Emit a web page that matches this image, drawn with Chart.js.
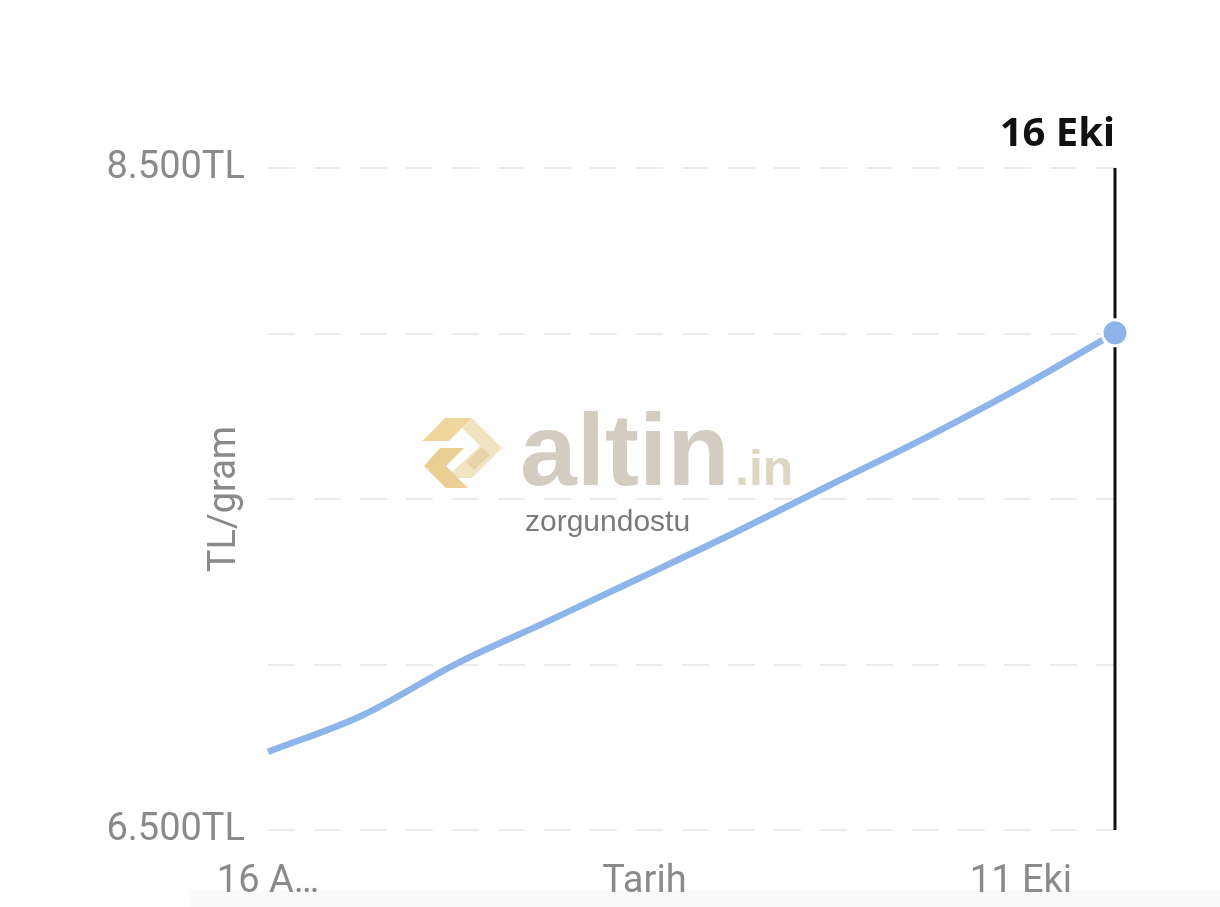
<!DOCTYPE html>
<html>
<head>
<meta charset="utf-8">
<script src="https://cdn.jsdelivr.net/npm/chart.js@4.4.1/dist/chart.umd.min.js"></script>
<style>
  html, body { margin: 0; padding: 0; background: #fff; }
  #wrap { position: relative; width: 1220px; height: 907px; }
  #strip { position: absolute; left: 190px; top: 890px; width: 1030px; height: 17px; background: #fafafa; }
  canvas { position: absolute; left: 0; top: 0; }
</style>
</head>
<body>
<div id="wrap">
  <div id="strip"></div>
  <canvas id="chart" width="1220" height="907"></canvas>
</div>
<script>
// weekly gram gold price (TL/gram)
const dates = ['16 Ağu', '23 Ağu', '30 Ağu', '6 Eyl', '13 Eyl', '20 Eyl', '27 Eyl', '4 Eki', '11 Eki', '16 Eki'];
const prices = [6736, 6846, 7002, 7134, 7268, 7404, 7546, 7687, 7838, 8002];
// what the x axis shows under each week
const xTickText = ['16 A…', '', '', '', 'Tarih', '', '', '', '11 Eki', ''];
const yTickValues = [6500, 8500];
const selectedLabel = '16 Eki';

const lineBlue = '#8db5ea';
const grey = '#8a8a8a';

function poly(ctx, color, pts) {
  ctx.fillStyle = color;
  ctx.beginPath();
  pts.forEach(([x, y], i) => i ? ctx.lineTo(x, y) : ctx.moveTo(x, y));
  ctx.closePath();
  ctx.fill();
}

// altin.in watermark behind the line
const watermark = {
  id: 'watermark',
  beforeDatasetsDraw(chart) {
    const ctx = chart.ctx;
    ctx.save();
    // logo
    poly(ctx, '#f1e4c3', [[472, 418], [502, 448], [472, 478], [458, 478], [452, 472], [480, 446], [462, 428]]);
    poly(ctx, '#efd69c', [[422, 441], [445, 418], [472, 418], [449, 441]]);
    poly(ctx, '#e9cf94', [[440, 448], [464, 448], [446, 466], [468, 488], [446, 488], [424, 466]]);
    poly(ctx, '#e6d3a8', [[466, 462], [482, 447], [490, 455], [474, 470]]);
    // name
    ctx.textBaseline = 'alphabetic';
    ctx.textAlign = 'left';
    ctx.font = 'bold 102px "Liberation Sans", Arial, sans-serif';
    ctx.fillStyle = '#d3cdc1';
    ctx.fillText('altin', 520, 485);
    ctx.font = 'bold 50px "Liberation Sans", Arial, sans-serif';
    ctx.fillStyle = '#ddd6c2';
    ctx.fillText('.in', 735, 485);
    ctx.font = '30px "Liberation Sans", Arial, sans-serif';
    ctx.fillStyle = '#7a7a7a';
    ctx.fillText('zorgundostu', 525, 531);
    ctx.restore();
  }
};

// vertical marker at the selected (last) day
const marker = {
  id: 'marker',
  beforeDatasetsDraw(chart) {
    const {ctx, chartArea} = chart;
    const pt = chart.getDatasetMeta(0).data[prices.length - 1];
    ctx.save();
    ctx.strokeStyle = '#111';
    ctx.lineWidth = 3;
    ctx.beginPath();
    ctx.moveTo(pt.x, chartArea.top);
    ctx.lineTo(pt.x, chartArea.bottom);
    ctx.stroke();
    ctx.font = 'bold 40px "Noto Sans", sans-serif';
    ctx.fillStyle = '#111';
    ctx.textAlign = 'right';
    ctx.textBaseline = 'alphabetic';
    ctx.fillText(selectedLabel, pt.x, 146);
    ctx.restore();
  }
};

new Chart(document.getElementById('chart'), {
  type: 'line',
  data: {
    labels: dates,
    datasets: [{
      data: prices,
      borderColor: lineBlue,
      borderWidth: 6.5,
      cubicInterpolationMode: 'monotone',
      pointRadius: ctx => ctx.dataIndex === prices.length - 1 ? 13 : 0,
      pointBackgroundColor: lineBlue,
      pointBorderColor: '#fff',
      pointBorderWidth: 3,
      fill: false
    }]
  },
  options: {
    responsive: false,
    animation: false,
    layout: { padding: { top: 168, right: 105, left: 0, bottom: 0 } },
    plugins: { legend: { display: false }, tooltip: { enabled: false } },
    scales: {
      x: {
        grid: { display: false },
        border: { display: false },
        ticks: {
          autoSkip: false,
          maxRotation: 0,
          padding: 22,
          color: grey,
          font: { family: 'Roboto', size: 38 },
          callback: (v, i) => xTickText[i]
        },
        afterFit: s => { s.height = 77; }
      },
      y: {
        min: 6500,
        max: 8500,
        grid: {
          color: '#ebebeb',
          lineWidth: 2,
          drawTicks: false
        },
        border: { display: false, dash: [27, 19] },
        ticks: {
          stepSize: 500,
          padding: 23,
          color: grey,
          font: { family: 'Roboto', size: 38 },
          callback: v => yTickValues.includes(v) ? v.toLocaleString('de-DE') + 'TL' : ''
        },
        title: {
          display: true,
          text: 'TL/gram',
          color: grey,
          font: { family: 'Roboto', size: 38 },
          padding: { top: 203, bottom: 0 }
        },
        afterFit: s => { s.width = 268; }
      }
    }
  },
  plugins: [watermark, marker]
});
</script>
</body>
</html>
